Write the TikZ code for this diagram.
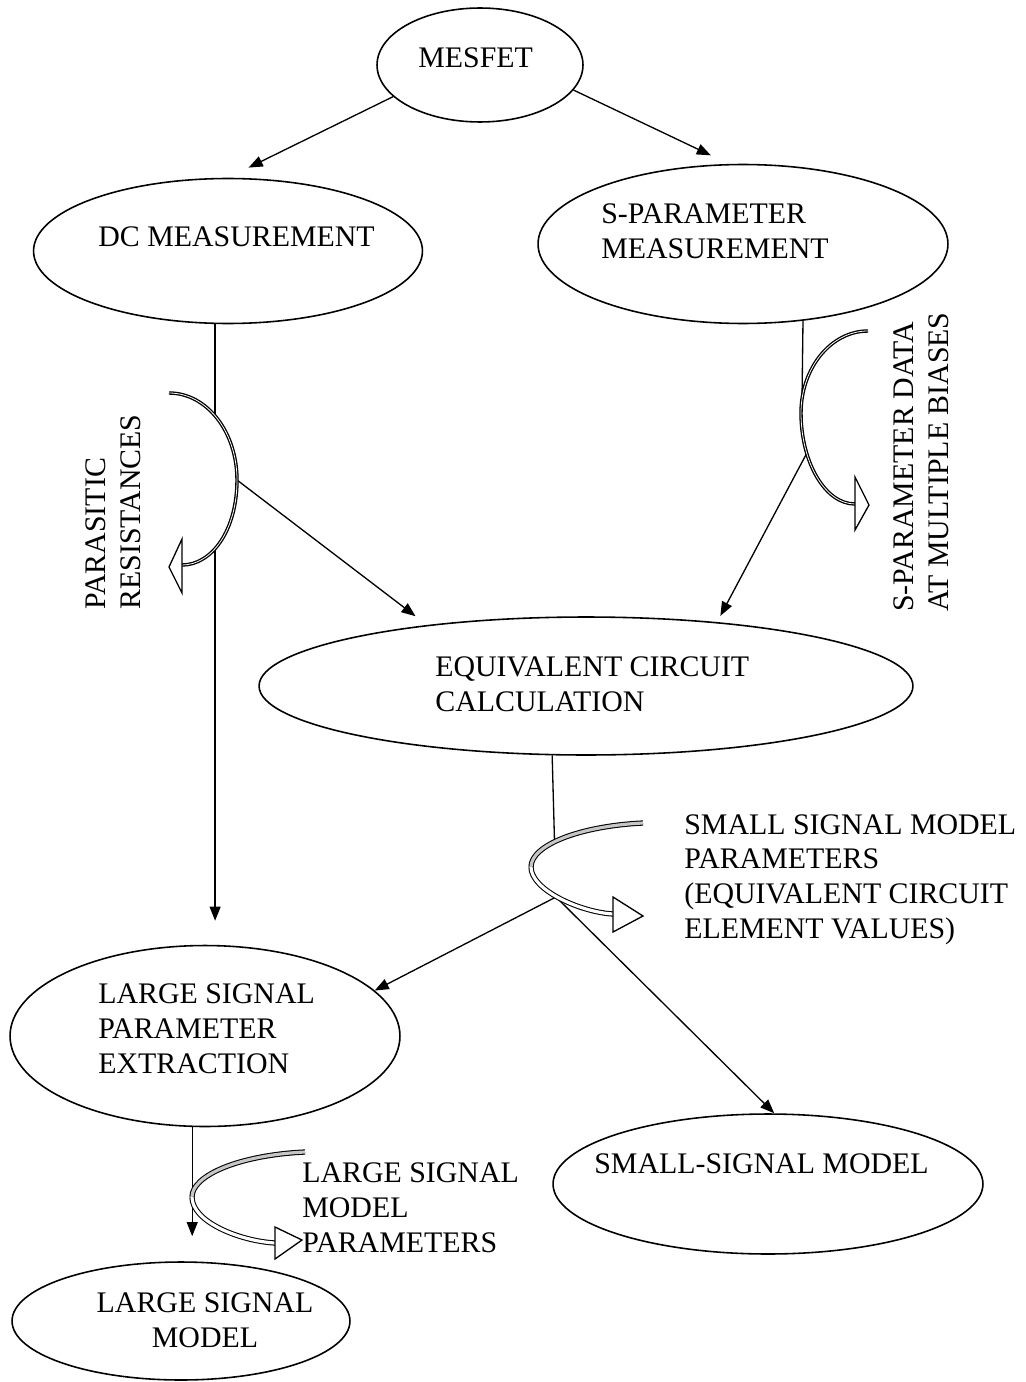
\documentclass[tikz,border=0pt]{standalone}
\usepackage{fontspec}
\setmainfont{Liberation Serif}
\usetikzlibrary{arrows.meta,shapes.geometric,calc}
\tikzset{%
    stage/.style={%
        ellipse, draw=black, line width=0.9pt, inner sep=0pt
    },
    txt/.style={%
        inner sep=0pt, align=left, font=\fontsize{17}{19.7}\selectfont
    },
    flow/.style={%
        line width=0.75pt, -{Triangle[length=8pt,width=6.2pt]}
    },
    link/.style={%
        line width=0.75pt
    },
    cover/.style={%
        fill=white
    },
    band/.style={%
        line width=0.75pt, double=white, double distance=0.45pt
    },
    gband/.style={%
        line width=0.6pt, double=gray!45, double distance=1.8pt
    },
    wband/.style={%
        line width=0.6pt, double=white, double distance=1.8pt
    },
    openhead/.style={%
        draw, fill=white, line width=0.75pt, line join=miter
    },
}
\begin{document}
\begin{tikzpicture}[x=0.02cm, y=-0.02cm]
\useasboundingbox (0,0) rectangle (1025,1382);

\node[stage, minimum width=4.12cm, minimum height=2.28cm] (mesfet) at (480,65) {};
\node[stage, minimum width=7.78cm, minimum height=2.9cm] (dc) at (228,251) {};
\node[stage, minimum width=8.2cm, minimum height=3.18cm] (sp) at (743,244) {};
\node[stage, minimum width=13.08cm, minimum height=2.76cm] (eq) at (586,686) {};
\node[stage, minimum width=7.8cm, minimum height=3.62cm] (lsp) at (205,1036) {};
\node[stage, minimum width=8.6cm, minimum height=2.8cm] (ssm) at (768,1184) {};
\node[stage, minimum width=6.76cm, minimum height=2.36cm] (lsm) at (181,1321) {};

% text anchors sit on the last line
\node[txt, anchor=base west] (mesfettxt) at (418,68) {MESFET};
\node[txt, anchor=base west] (dctxt) at (98,247) {DC MEASUREMENT};
\node[txt, anchor=base west] (sptxt) at (601,258) {S-PARAMETER\\MEASUREMENT};
\node[txt, anchor=base west] (eqtxt) at (435,711) {EQUIVALENT CIRCUIT\\CALCULATION};
\node[txt, anchor=base west] (lsptxt) at (98,1073) {LARGE SIGNAL\\PARAMETER\\EXTRACTION};
\node[txt, anchor=base west] (ssmtxt) at (594,1173) {SMALL-SIGNAL MODEL};
\node[txt, align=center, anchor=base] (lsmtxt) at (205,1347) {LARGE SIGNAL\\MODEL};

\coordinate (pr) at (237,480);
\coordinate (sq) at (802,400);
\coordinate (sr) at (809,449);
\coordinate (ss) at (556,897);

\draw[flow, shorten >=0.46cm] (mesfet.200) -- (dc.north);
\draw[flow, shorten >=0.4cm] (mesfet.345) -- (sp.100);
\draw[flow, shorten >=0.48cm] (dc.260) -- (dc.260 |- lsp.north);
\draw[flow, shorten >=0.29cm] (pr) -- (eq.159);
\draw[link] (sp.308) -- (sq);
\draw[flow, shorten >=0.14cm] (sr) -- (eq.26);
\draw[link] (eq.244) -- (ss);
\draw[flow] (ss) -- (lsp.15);
\draw[flow] (ss) -- (ssm.85);
\draw[flow, shorten >=0.5cm] (lsp.262) -- (lsp.262 |- lsm.north);

% curved arrows
\path[cover] (169,393) .. controls (207,393) and (237,432) .. (pr) .. controls (237,530) and (212,565) .. (182,565) -- cycle;
\draw[band] (169,393) .. controls (207,393) and (237,432) .. (pr) .. controls (237,530) and (212,565) .. (182,565);
\draw[openhead] (182,539) -- (169,567) -- (182,593) -- cycle;

\path[cover] (868,331) .. controls (831,331) and (801,368) .. (801,413) .. controls (801,462) and (825,504) .. (855,504) -- cycle;
\draw[band] (868,331) .. controls (831,331) and (801,368) .. (801,413) .. controls (801,462) and (825,504) .. (855,504);
\draw[openhead] (855,477) -- (869,505) -- (855,530) -- cycle;

\path[cover] (643,823) .. controls (580,826) and (531,845) .. (531,867) .. controls (531,890) and (580,912) .. (613,914) -- cycle;
\draw[gband] (643,823) .. controls (580,826) and (531,845) .. (531,867);
\draw[wband] (531,867) .. controls (531,890) and (580,912) .. (613,914);
\draw[openhead] (613,897) -- (643,916) -- (613,932) -- cycle;

\path[cover] (305,1152) .. controls (240,1155) and (192,1175) .. (192,1197) .. controls (192,1222) and (240,1241) .. (275,1243) -- cycle;
\draw[gband] (305,1152) .. controls (240,1155) and (192,1175) .. (192,1197);
\draw[wband] (192,1197) .. controls (192,1222) and (240,1241) .. (275,1243);
\draw[openhead] (275,1227) -- (302,1240) -- (275,1259) -- cycle;

\node[txt, rotate=90, anchor=base west] (partxt) at (140,610) {PARASITIC\\RESISTANCES};
\node[txt, rotate=90, anchor=base west] (sdtxt) at (948,612) {S-PARAMETER DATA\\AT MULTIPLE BIASES};
\node[txt, anchor=base west] (ssmptxt) at (684,938) {SMALL SIGNAL MODEL\\PARAMETERS\\(EQUIVALENT CIRCUIT\\ELEMENT VALUES)};
\node[txt, anchor=base west] (lsmptxt) at (302,1252) {LARGE SIGNAL\\MODEL\\PARAMETERS};
\end{tikzpicture}
\end{document}
